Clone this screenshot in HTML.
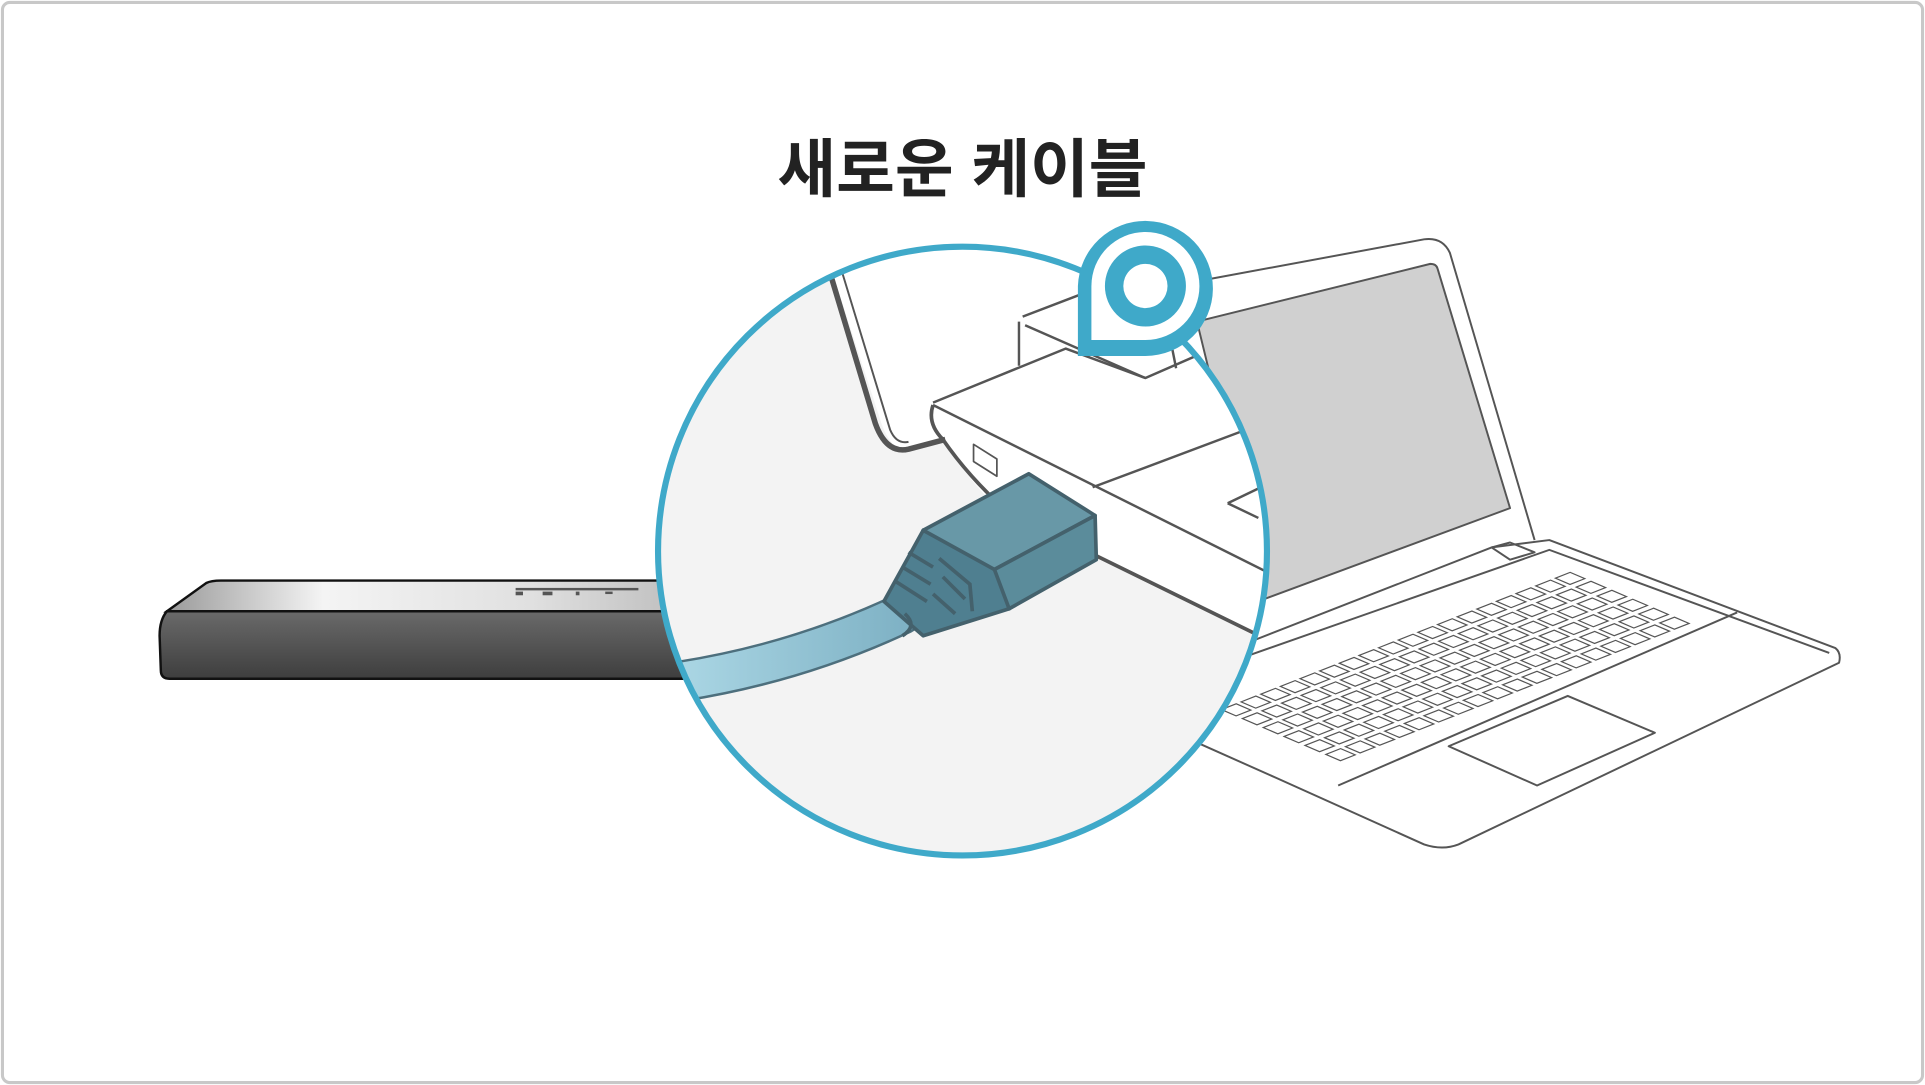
<!DOCTYPE html>
<html><head><meta charset="utf-8"><style>
html,body{margin:0;padding:0;background:#fff;width:1925px;height:1085px;overflow:hidden}
svg{display:block}
</style></head><body>
<svg width="1925" height="1085" viewBox="0 0 1568 884" preserveAspectRatio="none">
<defs>
<linearGradient id="sbTop" x1="0" y1="0" x2="1" y2="0"><stop offset="0" stop-color="#9a9a9a"/><stop offset="0.3" stop-color="#f4f4f4"/><stop offset="0.7" stop-color="#e0e0e0"/><stop offset="1" stop-color="#bdbdbd"/></linearGradient>
<linearGradient id="sbFront" x1="0" y1="0" x2="0" y2="1"><stop offset="0" stop-color="#6a6a6a"/><stop offset="1" stop-color="#3e3e3e"/></linearGradient>
<linearGradient id="cab" x1="0" y1="0" x2="1" y2="0"><stop offset="0" stop-color="#aad6e4"/><stop offset="1" stop-color="#7fb2c5"/></linearGradient>
<clipPath id="cc"><circle cx="784" cy="449" r="246"/></clipPath>
</defs>
<rect x="2" y="2" width="1564" height="880" rx="6" fill="#fff" stroke="#c8c8c8" stroke-width="2.5"/>
<text x="784" y="156" text-anchor="middle" font-family="'Liberation Sans','Noto Sans CJK KR',sans-serif" font-weight="bold" font-size="52" fill="#222">새로운 케이블</text>

<!-- soundbar -->
<path d="M136,498 L168,475 Q172,473 180,473 L560,473 L560,499 Z" fill="url(#sbTop)" stroke="#111" stroke-width="2"/>
<path d="M136,498 L560,498 L560,553 L138,553 Q131,553 131,546 L130,518 Q130,505 136,498 Z" fill="url(#sbFront)" stroke="#111" stroke-width="2"/>
<g fill="#555"><rect x="420" y="479" width="100" height="2"/><rect x="420" y="482" width="6" height="3"/><rect x="442" y="482" width="8" height="3"/><rect x="469" y="482" width="3" height="3"/><rect x="493" y="482" width="6" height="2"/></g>

<!-- laptop -->
<g fill="none" stroke="#555" stroke-width="1.6" stroke-linejoin="round">
<path d="M960,232 L1160,195 Q1175,193 1181,206 L1250,440" fill="#fff"/>
<path d="M975,262 L1165,215 Q1170,215 1171,219 L1230,414 L1030,488 Z" fill="#d0d0d0"/>
<path d="M1000,530 L1215,446 L1262,440 L1495,528 Q1500,532 1498,540 L1188,688 Q1175,693 1160,688 L1040,634 L975,605" fill="#fff"/>
<path d="M1000,540 L1262,448 L1490,532 M1090,640 L1415,499"/>
<path d="M1215,446 L1230,442 L1250,450 L1230,456 Z"/>
<path d="M1180,608 L1277,567 L1348,597 L1252,640 Z"/>
</g>
<g transform="matrix(16,-6.3,17,7.3,990,578)" fill="#fff" stroke="#555">
<g id="row"><rect x="0.15" y="0.15" width="0.75" height="0.7" stroke-width="1.2" vector-effect="non-scaling-stroke"/><rect x="1.15" y="0.15" width="0.75" height="0.7" stroke-width="1.2" vector-effect="non-scaling-stroke"/><rect x="2.15" y="0.15" width="0.75" height="0.7" stroke-width="1.2" vector-effect="non-scaling-stroke"/><rect x="3.15" y="0.15" width="0.75" height="0.7" stroke-width="1.2" vector-effect="non-scaling-stroke"/><rect x="4.15" y="0.15" width="0.75" height="0.7" stroke-width="1.2" vector-effect="non-scaling-stroke"/><rect x="5.15" y="0.15" width="0.75" height="0.7" stroke-width="1.2" vector-effect="non-scaling-stroke"/><rect x="6.15" y="0.15" width="0.75" height="0.7" stroke-width="1.2" vector-effect="non-scaling-stroke"/><rect x="7.15" y="0.15" width="0.75" height="0.7" stroke-width="1.2" vector-effect="non-scaling-stroke"/><rect x="8.15" y="0.15" width="0.75" height="0.7" stroke-width="1.2" vector-effect="non-scaling-stroke"/><rect x="9.15" y="0.15" width="0.75" height="0.7" stroke-width="1.2" vector-effect="non-scaling-stroke"/><rect x="10.15" y="0.15" width="0.75" height="0.7" stroke-width="1.2" vector-effect="non-scaling-stroke"/><rect x="11.15" y="0.15" width="0.75" height="0.7" stroke-width="1.2" vector-effect="non-scaling-stroke"/><rect x="12.15" y="0.15" width="0.75" height="0.7" stroke-width="1.2" vector-effect="non-scaling-stroke"/><rect x="13.15" y="0.15" width="0.75" height="0.7" stroke-width="1.2" vector-effect="non-scaling-stroke"/><rect x="14.15" y="0.15" width="0.75" height="0.7" stroke-width="1.2" vector-effect="non-scaling-stroke"/><rect x="15.15" y="0.15" width="0.75" height="0.7" stroke-width="1.2" vector-effect="non-scaling-stroke"/><rect x="16.15" y="0.15" width="0.75" height="0.7" stroke-width="1.2" vector-effect="non-scaling-stroke"/><rect x="17.15" y="0.15" width="0.75" height="0.7" stroke-width="1.2" vector-effect="non-scaling-stroke"/></g>
<use href="#row" y="1"/><use href="#row" y="2"/><use href="#row" y="3"/><use href="#row" y="4"/><use href="#row" y="5"/>
</g>

<!-- magnifier circle -->
<circle cx="784" cy="449" r="248" fill="#f3f3f3"/>
<g clip-path="url(#cc)">
<path d="M678,222 L718,345 Q726,368 740,365 L768,357 Q790,395 820,420 L1040,525 L1045,190 L678,190 Z" fill="#fff"/>
<g fill="none" stroke="#555" stroke-linejoin="round">
<path d="M676,222 L713,345 Q722,370 740,366 L770,358" stroke-width="4.5"/>
<path d="M686,222 L725,350 Q730,362 740,360" stroke-width="1.6"/>
<path d="M760,328 L868,284 L933,308 L1020,270" stroke-width="2"/>
<path d="M833,258 L880,240 M835,265 L933,308 M830,262 L830,298 M955,285 L958,300" stroke-width="2"/>
<path d="M760,330 L1040,470" stroke-width="2"/>
<path d="M890,397 L1010,352" stroke-width="2"/>
<path d="M1000,410 L1025,398 M1000,410 L1025,422" stroke-width="2"/>
<path d="M760,330 Q755,345 768,358 Q790,390 822,418 L1030,520" stroke-width="3"/>
<path d="M793,362 L812,374 L812,388 L793,376 Z" stroke-width="1.4"/>
</g>
<path d="M555,555 Q650,540 735,500" fill="none" stroke="#4d6f7d" stroke-width="34" stroke-linecap="round"/>
<path d="M555,555 Q650,540 735,500" fill="none" stroke="url(#cab)" stroke-width="30" stroke-linecap="round"/>
</g>
<circle cx="784" cy="449" r="248" fill="none" stroke="#3fa9c9" stroke-width="5"/>

<!-- connector -->
<g stroke="#44616c" stroke-width="3" stroke-linejoin="round">
<path d="M720,490 L752,432 L812,464 L822,496 L752,518 Z" fill="#4f7f90"/>
<path d="M752,432 L838,386 L892,420 L810,464 Z" fill="#6898a7"/>
<path d="M810,464 L892,420 L893,456 L822,496 Z" fill="#5b8c9b"/>
</g>
<g stroke="#44616c" stroke-width="3" fill="none">
<path d="M740,450 L760,462 M735,462 L758,476 M730,474 L755,490 M765,455 L790,476 L792,498 M768,470 L786,488 M760,484 L778,500"/>
</g>
<path d="M737,500 Q748,510 735,518" fill="none" stroke="#44616c" stroke-width="3"/>

<!-- pin -->
<path d="M878,290 L878,233 A55,55 0 1 1 933,290 Z" fill="#3fa9c9"/>
<path d="M889,277 L889,233 A44,44 0 1 1 933,277 Z" fill="#fff"/>
<circle cx="933" cy="233" r="33" fill="#3fa9c9"/>
<circle cx="933" cy="233" r="18" fill="#fff"/>
</svg>
</body></html>
